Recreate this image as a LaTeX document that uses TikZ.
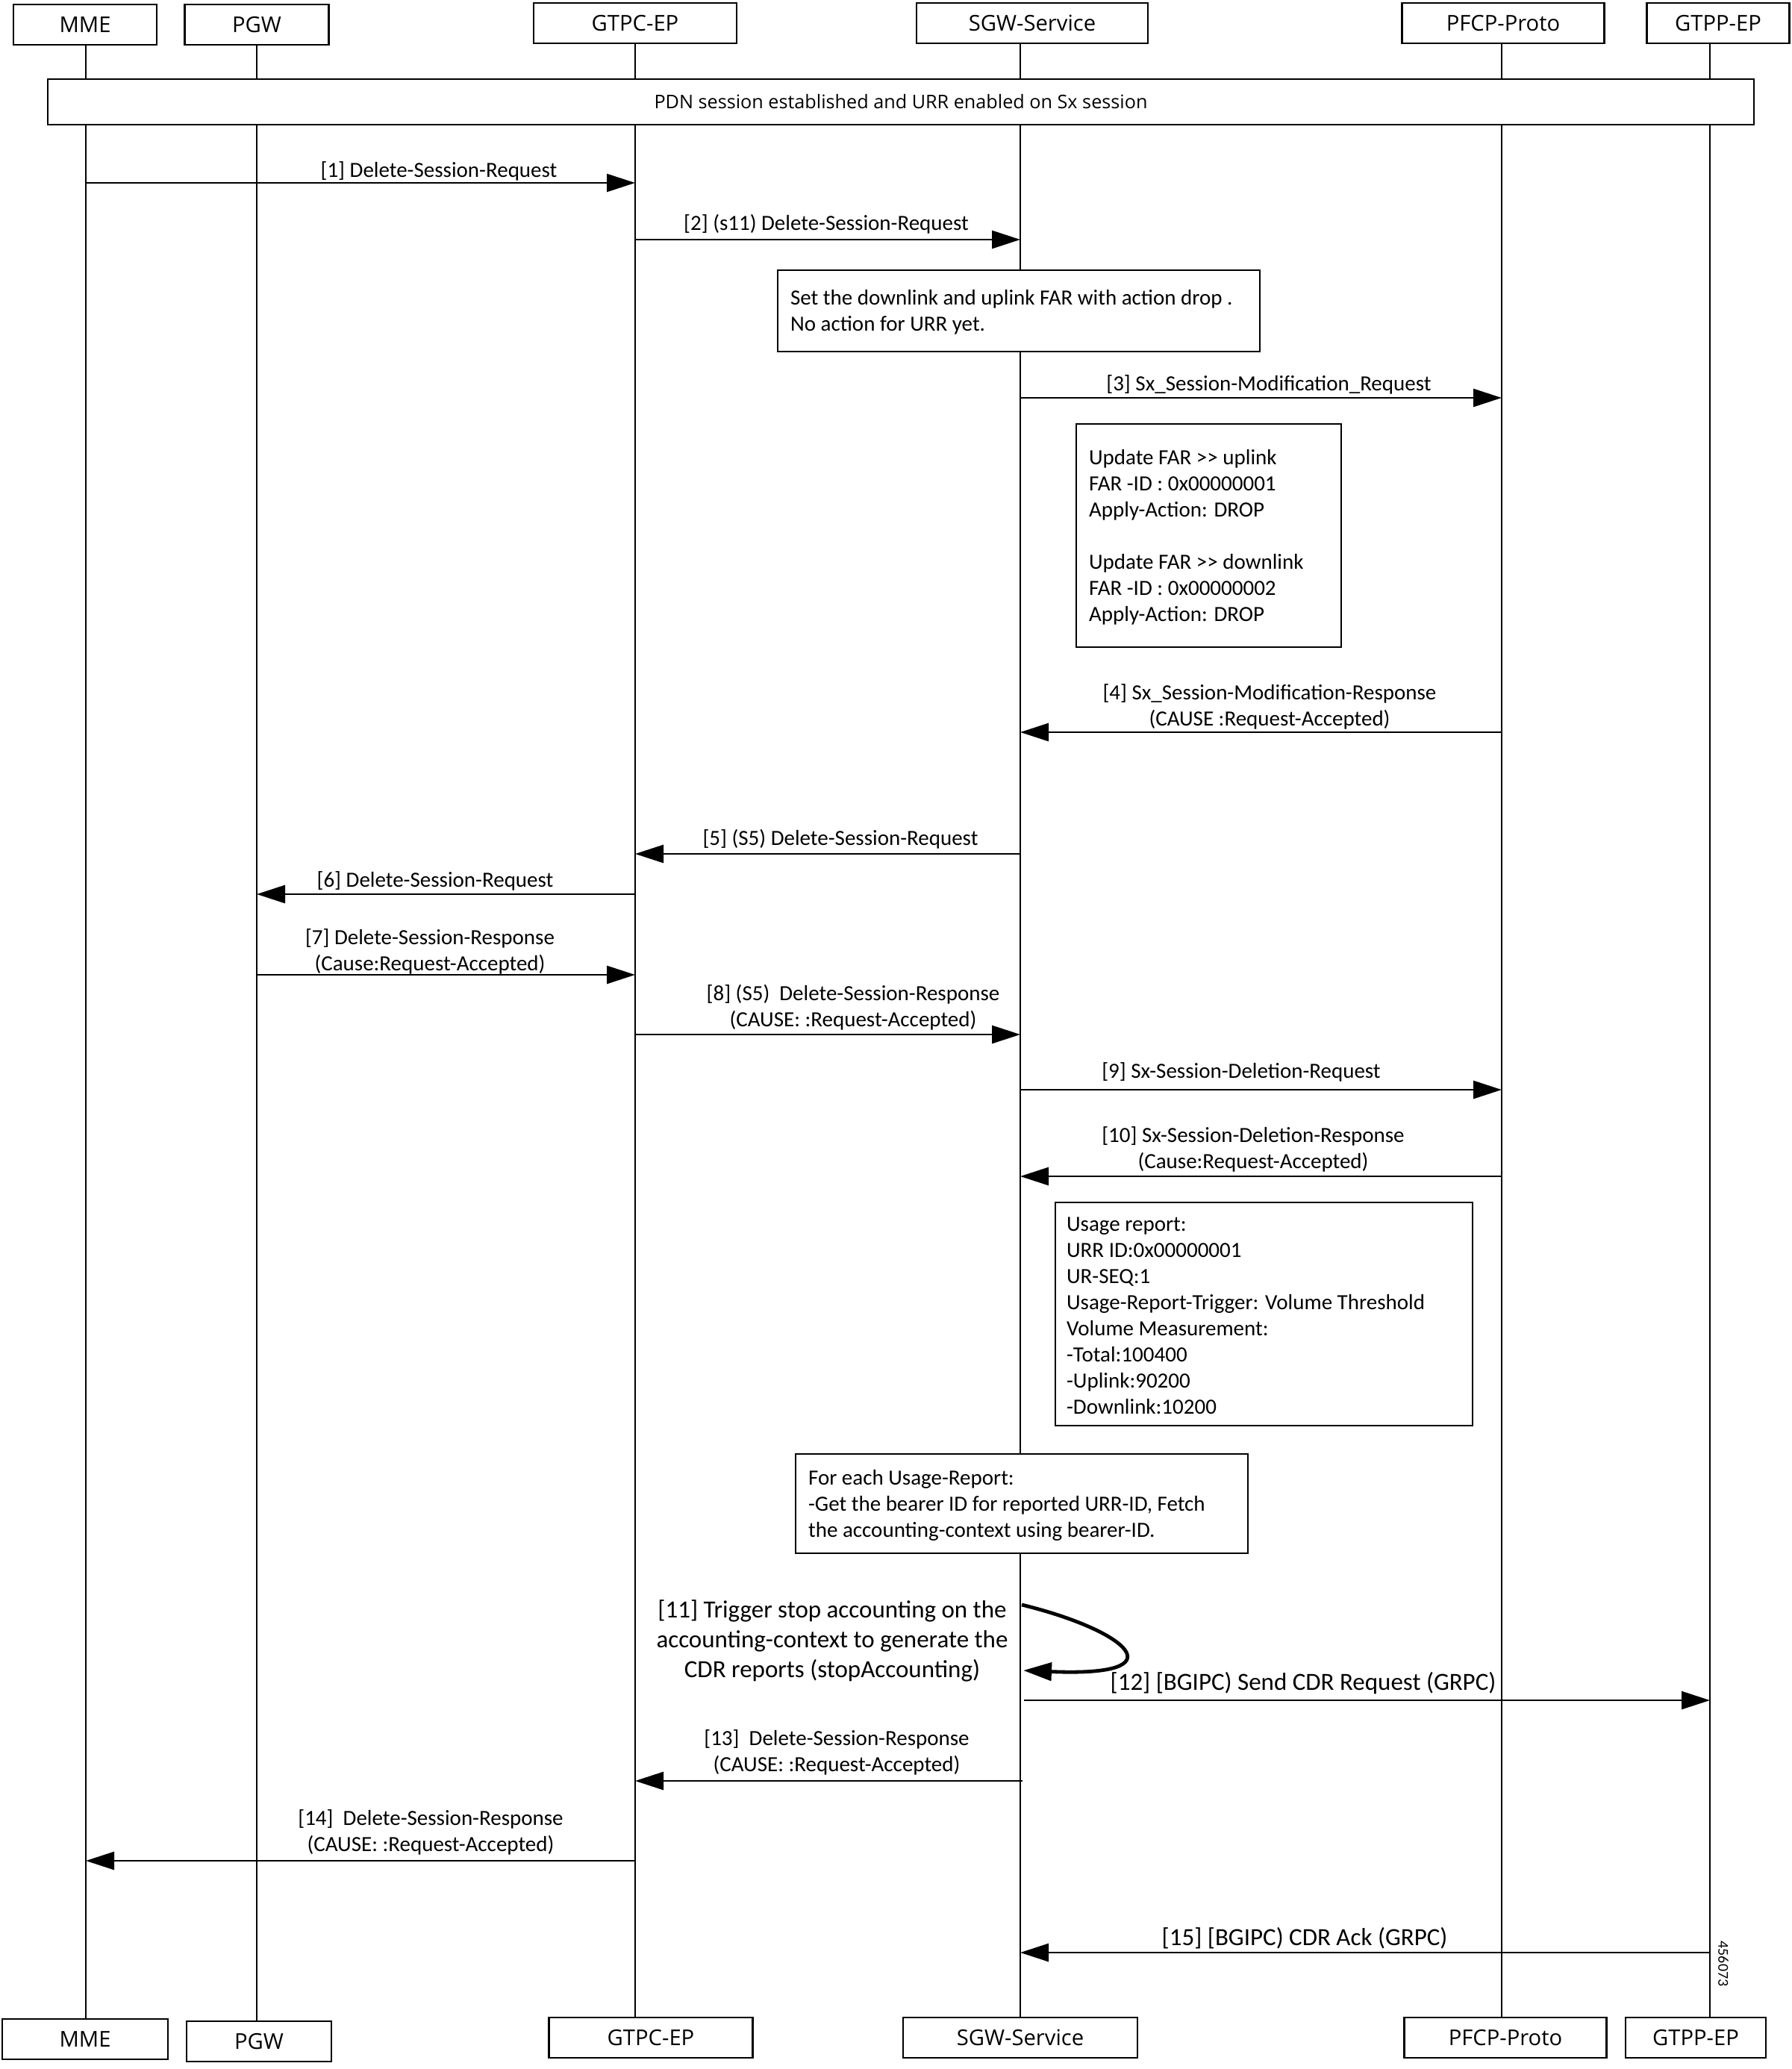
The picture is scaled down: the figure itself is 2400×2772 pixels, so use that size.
\documentclass[tikz,border=0pt]{standalone}
\usepackage{fontspec}
\setmainfont{Carlito}
\newfontfamily\headfont{Open Sans}
\usetikzlibrary{arrows.meta,fit}

\tikzset{
  head/.style={draw, line width=1.3pt, fill=white, font=\headfont\fontsize{14.6}{16}\selectfont, minimum height=27pt, inner sep=0pt},
  life/.style={line width=1pt},
  msg/.style={line width=1.4pt, -{Triangle[length=19pt,width=12pt]}},
  selfmsg/.style={line width=2.4pt, -{Triangle[length=19pt,width=12pt]}},
  lbl/.style={font=\fontsize{14.5}{17.5}\selectfont, align=center, inner sep=0pt, yshift=-2.5pt},
  biglbl/.style={font=\fontsize{16.5}{20}\selectfont, align=center, inner sep=0pt, yshift=-3pt},
  note/.style={draw, line width=1.3pt, fill=white, inner sep=0pt},
  notetxt/.style={font=\fontsize{14.5}{17.5}\selectfont, align=left, inner sep=0pt, anchor=west, yshift=-1pt},
}

\begin{document}
\begin{tikzpicture}[x=0.5pt, y=-0.5pt]
\useasboundingbox (0,0) rectangle (2400,2772);

% heads on top
\node[head, minimum width=96pt]   (mmeT)  at (114,33)  {MME};
\node[head, minimum width=96.5pt] (pgwT)  at (344,33)  {PGW};
\node[head, minimum width=136pt]  (gtpcT) at (851,31)  {GTPC-EP};
\node[head, minimum width=155pt]  (sgwT)  at (1383,31) {SGW-Service};
\node[head, minimum width=135.5pt](pfcpT) at (2014,31) {PFCP-Proto};
\node[head, minimum width=95.5pt] (gtppT) at (2302,31) {GTPP-EP};

% heads at the foot
\node[head, minimum width=111pt]  (mmeB)  at (114,2732)  {MME};
\node[head, minimum width=97pt]   (pgwB)  at (347,2735)  {PGW};
\node[head, minimum width=136.5pt](gtpcB) at (872,2730)  {GTPC-EP};
\node[head, minimum width=157pt]  (sgwB)  at (1367,2730) {SGW-Service};
\node[head, minimum width=135.5pt](pfcpB) at (2017,2730) {PFCP-Proto};
\node[head, minimum width=94pt]   (gtppB) at (2272,2730) {GTPP-EP};

% lifelines
\coordinate (mme)  at (115,0);
\coordinate (pgw)  at (344,0);
\coordinate (gtpc) at (851,0);
\coordinate (sgw)  at (1367,0);
\coordinate (pfcp) at (2012,0);
\coordinate (gtpp) at (2291,0);
\foreach \l/\h in {mme/mme, pgw/pgw, gtpc/gtpc, sgw/sgw, pfcp/pfcp, gtpp/gtpp}
{
   \draw[life] (\l |- \h T.south) -- (\l |- \h B.north);
}

\node[note, minimum width=1143pt, minimum height=30.5pt, font=\headfont\fontsize{12.6}{15}\selectfont] (pdn) at (1207,136.5) {PDN session established and URR enabled on Sx session};

% messages
\draw[msg] (mme |- 0,245) -- (gtpc |- 0,245);
\node[lbl] (m1) at (588,224) {[1] Delete-Session-Request};

\draw[msg] (gtpc |- 0,321) -- (sgw |- 0,321);
\node[lbl] (m2) at (1107,295) {[2] (s11) Delete-Session-Request};

\node[note, fit={(1042,362) (1688,471)}] (farset) {};
\node[notetxt] (farsett) at ([xshift=9pt]farset.west) {Set the downlink and uplink FAR with action drop .\\No action for URR yet.};

\draw[msg] (sgw |- 0,533) -- (pfcp |- 0,533);
\node[lbl] (m3) at (1700,510) {[3] Sx\_Session-Modification\_Request};

\node[note, fit={(1442,568) (1797,867)}] (farupd) {};
\node[notetxt] (farupdt) at ([xshift=9pt]farupd.west) {Update FAR >\kern0pt> uplink\\FAR -ID : 0x00000001\\Apply-Action: DROP\\[17.5pt]Update FAR >\kern0pt> downlink\\FAR -ID : 0x00000002\\Apply-Action: DROP};

\draw[msg] (pfcp |- 0,981) -- (sgw |- 0,981);
\node[lbl] (m4) at (1701,942) {[4] Sx\_Session-Modification-Response\\(CAUSE :Request-Accepted)};

\draw[msg] (sgw |- 0,1144) -- (gtpc |- 0,1144);
\node[lbl] (m5) at (1126,1119) {[5] (S5) Delete-Session-Request};

\draw[msg] (gtpc |- 0,1198) -- (pgw |- 0,1198);
\node[lbl] (m6) at (583,1175) {[6] Delete-Session-Request};

\draw[msg] (pgw |- 0,1306) -- (gtpc |- 0,1306);
\node[lbl] (m7) at (576,1270) {[7] Delete-Session-Response\\(Cause:Request-Accepted)};

\draw[msg] (gtpc |- 0,1386) -- (sgw |- 0,1386);
\node[lbl] (m8) at (1143,1345) {[8] (S5)\ \ Delete-Session-Response\\(CAUSE: :Request-Accepted)};

\draw[msg] (sgw |- 0,1460) -- (pfcp |- 0,1460);
\node[lbl] (m9) at (1663,1431) {[9] Sx-Session-Deletion-Request};

\draw[msg] (pfcp |- 0,1576) -- (sgw |- 0,1576);
\node[lbl] (m10) at (1679,1535) {[10] Sx-Session-Deletion-Response\\(Cause:Request-Accepted)};

\node[note, fit={(1414,1611) (1973,1910)}] (usage) {};
\node[notetxt] (usaget) at ([xshift=8pt]usage.west) {Usage report:\\URR ID:0x00000001\\UR-SEQ:1\\Usage-Report-Trigger: Volume Threshold\\Volume Measurement:\\-Total:100400\\-Uplink:90200\\-Downlink:10200};

\node[note, fit={(1066,1948) (1672,2081)}] (fetch) {};
\node[notetxt] (fetcht) at ([xshift=9pt]fetch.west) {For each Usage-Report:\\-Get the bearer ID for reported URR-ID, Fetch\\the accounting-context using bearer-ID.};

% stop accounting
\coordinate (stopA) at (1369,2150);
\coordinate (stopB) at (1371,2238);
\draw[selfmsg] (stopA) .. controls (1512,2185) and (1582,2247) .. (stopB);
\node[biglbl] (m11) at (1115,2192) {[11] Trigger stop accounting on the\\accounting-context to generate the\\CDR reports (stopAccounting)};

\draw[msg] (1372,2278) -- (gtpp |- 0,2278);
\node[biglbl] (m12) at (1746,2249) {[12] [BGIPC) Send CDR Request (GRPC)};

\draw[msg] (1370,2386) -- (gtpc |- 0,2386);
\node[lbl] (m13) at (1121,2343) {[13]\ \ Delete-Session-Response\\(CAUSE: :Request-Accepted)};

\draw[msg] (gtpc |- 0,2493) -- (mme |- 0,2493);
\node[lbl] (m14) at (577,2450) {[14]\ \ Delete-Session-Response\\(CAUSE: :Request-Accepted)};

\draw[msg] (gtpp |- 0,2616) -- (sgw |- 0,2616);
\node[biglbl] (m15) at (1748,2591) {[15] [BGIPC) CDR Ack (GRPC)};

\node[font=\fontsize{10}{12}\selectfont, rotate=-90, inner sep=0pt] (figid) at (2309,2631) {456073};

\end{tikzpicture}
\end{document}
